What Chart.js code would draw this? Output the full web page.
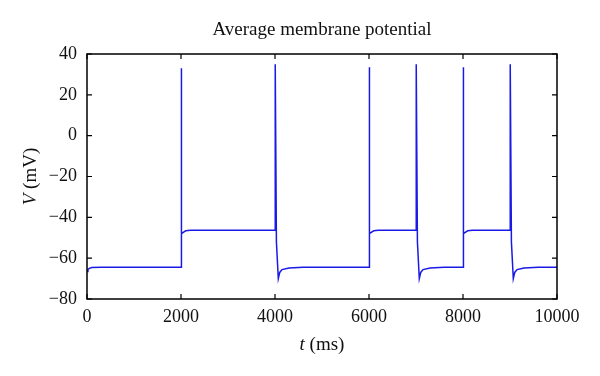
<!DOCTYPE html>
<html lang="en">
<head>
    <meta charset="UTF-8">
    <title>Average membrane potential</title>
    <script src="https://cdn.jsdelivr.net/npm/chart.js"></script>
    <style>
        * { margin: 0; padding: 0; box-sizing: border-box; }
        body { background: #fff; width: 600px; height: 376px; overflow: hidden; }
        .chart-box { position: relative; width: 600px; height: 376px; }
    </style>
</head>
<body>
    <div class="chart-box">
        <canvas id="vChart"></canvas>
    </div>

    <script>
        // time points (ms) and membrane potential (mV)
        const timeMs = [
            0, 20, 50, 100, 300, 1998,
            2000, 2004, 2015, 2040, 2100, 2200, 3997,
            4000, 4005, 4030, 4070, 4100, 4150, 4300, 4600, 5997,
            6000, 6004, 6015, 6040, 6100, 6200, 6997,
            7000, 7005, 7030, 7070, 7100, 7150, 7300, 7600, 7997,
            8000, 8004, 8015, 8040, 8100, 8200, 8997,
            9000, 9005, 9030, 9070, 9100, 9150, 9300, 9600, 10000
        ];
        const potentialMv = [
            -66.5, -65.5, -65, -64.6, -64.4, -64.4,
            -64.4, 33, -48, -47.5, -46.6, -46.3, -46.3,
            -46.3, 35, -52, -70, -67, -65.6, -64.8, -64.5, -64.5,
            -64.5, 33.5, -48, -47.5, -46.6, -46.3, -46.3,
            -46.3, 35, -52, -70, -67, -65.6, -64.8, -64.5, -64.5,
            -64.5, 33.5, -48, -47.5, -46.6, -46.3, -46.3,
            -46.3, 35, -52, -70, -67, -65.6, -64.8, -64.5, -64.5
        ];
        const xTicks = [0, 2000, 4000, 6000, 8000, 10000];
        const yTicks = [-80, -60, -40, -20, 0, 20, 40];

        const serif = "'Liberation Serif', 'DejaVu Serif', serif";

        // draws the frame, inward ticks, title and the mixed-style axis titles
        const framePlugin = {
            id: 'frame',
            afterDraw(chart) {
                const ctx = chart.ctx;
                const a = chart.chartArea;
                const xs = chart.scales.x, ys = chart.scales.y;
                ctx.save();
                ctx.strokeStyle = '#000';
                ctx.lineWidth = 1.5;
                ctx.strokeRect(a.left, a.top, a.right - a.left, a.bottom - a.top);
                ctx.lineWidth = 1.2;
                ctx.beginPath();
                xTicks.forEach(v => {
                    const px = xs.getPixelForValue(v);
                    ctx.moveTo(px, a.bottom); ctx.lineTo(px, a.bottom - 5);
                    ctx.moveTo(px, a.top); ctx.lineTo(px, a.top + 5);
                });
                yTicks.forEach(v => {
                    const py = ys.getPixelForValue(v);
                    ctx.moveTo(a.left, py); ctx.lineTo(a.left + 5, py);
                    ctx.moveTo(a.right, py); ctx.lineTo(a.right - 5, py);
                });
                ctx.stroke();

                ctx.fillStyle = '#111';
                ctx.textBaseline = 'middle';
                const cx = (a.left + a.right) / 2;

                // title
                ctx.font = '19px ' + serif;
                ctx.textAlign = 'center';
                ctx.fillText('Average membrane potential', cx, 30);

                // x axis title: italic t
                drawMixed(ctx, [['italic 19px ', 't'], ['19px ', ' (ms)']], cx, 345);

                // y axis title: italic V, rotated
                ctx.translate(31, (a.top + a.bottom) / 2);
                ctx.rotate(-Math.PI / 2);
                drawMixed(ctx, [['italic 19px ', 'V'], ['19px ', ' (mV)']], 0, 0);
                ctx.restore();
            }
        };

        function drawMixed(ctx, parts, cx, cy) {
            let total = 0;
            parts.forEach(p => { ctx.font = p[0] + serif; total += ctx.measureText(p[1]).width; });
            let x = cx - total / 2;
            ctx.textAlign = 'left';
            parts.forEach(p => {
                ctx.font = p[0] + serif;
                ctx.fillText(p[1], x, cy);
                x += ctx.measureText(p[1]).width;
            });
        }

        new Chart(document.getElementById('vChart'), {
            type: 'line',
            data: {
                datasets: [{
                    data: timeMs.map((t, i) => ({ x: t, y: potentialMv[i] })),
                    borderColor: '#1a1ae6',
                    borderWidth: 1.5,
                    pointRadius: 0,
                    tension: 0,
                    fill: false
                }]
            },
            options: {
                responsive: true,
                maintainAspectRatio: false,
                animation: false,
                events: [],
                layout: { padding: { top: 54, right: 43, left: 0, bottom: 0 } },
                plugins: {
                    legend: { display: false },
                    title: { display: false },
                    tooltip: { enabled: false }
                },
                scales: {
                    x: {
                        type: 'linear',
                        min: 0, max: 10000,
                        afterFit(s) { s.height = 77; },
                        afterBuildTicks(s) { s.ticks = xTicks.map(v => ({ value: v })); },
                        grid: { display: false, drawTicks: false },
                        border: { display: false },
                        ticks: {
                            color: '#111',
                            padding: 7,
                            maxRotation: 0,
                            font: { family: serif, size: 18 },
                            callback: v => String(v)
                        }
                    },
                    y: {
                        min: -80, max: 40,
                        afterFit(s) { s.width = 87; },
                        afterBuildTicks(s) { s.ticks = yTicks.map(v => ({ value: v })); },
                        grid: { display: false, drawTicks: false },
                        border: { display: false },
                        ticks: {
                            color: '#111',
                            padding: 10,
                            font: { family: serif, size: 18 },
                            callback: v => String(v).replace('-', '\u2212')
                        }
                    }
                }
            },
            plugins: [framePlugin]
        });
    </script>
</body>
</html>
